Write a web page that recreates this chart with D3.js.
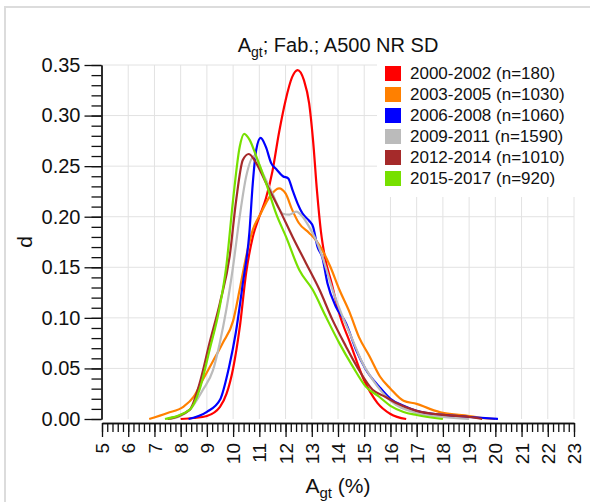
<!DOCTYPE html>
<html>
<head>
<meta charset="utf-8">
<script src="https://cdn.jsdelivr.net/npm/d3@7"></script>
<style>
  body { margin: 0; background: #fff; }
  svg { display: block; font-family: "Liberation Sans", Arial, sans-serif; }
</style>
</head>
<body>
<div id="chart"></div>
<script>
// A_gt density curves, one series per period
const categories = ['2000-2002 (n=180)', '2003-2005 (n=1030)', '2006-2008 (n=1060)',
  '2009-2011 (n=1590)', '2012-2014 (n=1010)', '2015-2017 (n=920)'];
const colors = ['#ff0000', '#ff8000', '#0000ff', '#bbbbbb', '#a52a2a', '#77e000'];

const s2000 = [[8.0,0],[8.5,0.001],[9.0,0.003],[9.5,0.012],[9.75,0.025],[10.0,0.05],[10.25,0.09],
  [10.5,0.145],[10.75,0.18],[11.0,0.2],[11.25,0.218],[11.5,0.245],[11.75,0.283],[12.0,0.315],
  [12.25,0.338],[12.46,0.345],[12.7,0.335],[12.9,0.312],[13.05,0.275],[13.2,0.225],[13.35,0.185],
  [13.5,0.16],[13.75,0.135],[14.05,0.104],[14.45,0.076],[15.0,0.038],[15.5,0.016],[16.0,0.005],[16.6,0]];
const s2003 = [[6.8,0],[7.5,0.006],[8.1,0.012],[8.5,0.022],[8.85,0.039],[9.25,0.058],[9.6,0.075],
  [10.0,0.097],[10.25,0.128],[10.5,0.161],[10.75,0.187],[11.05,0.203],[11.4,0.22],[11.75,0.228],
  [12.0,0.223],[12.25,0.207],[12.5,0.194],[12.9,0.184],[13.15,0.177],[13.4,0.167],[13.7,0.151],
  [14.05,0.128],[14.45,0.105],[14.8,0.081],[15.2,0.062],[15.6,0.042],[16.0,0.03],[16.5,0.018],
  [17.0,0.015],[17.5,0.01],[18.0,0.006],[19.0,0.003],[19.5,0.001],[20.0,0]];
const s2006 = [[8.3,0],[9.0,0.007],[9.5,0.019],[9.85,0.052],[10.1,0.085],[10.37,0.134],[10.62,0.184],
  [10.75,0.233],[10.88,0.266],[11.05,0.278],[11.25,0.269],[11.45,0.253],[11.65,0.247],[11.9,0.24],
  [12.1,0.238],[12.27,0.226],[12.46,0.213],[12.65,0.203],[12.9,0.196],[13.05,0.19],[13.22,0.17],
  [13.4,0.16],[13.6,0.134],[13.92,0.111],[14.3,0.095],[14.68,0.069],[15.06,0.049],[15.57,0.032],
  [16.0,0.02],[16.5,0.013],[17.0,0.008],[18.0,0.004],[19.0,0.002],[20.1,0]];
const s2009 = [[7.6,0],[8.34,0.009],[8.85,0.029],[9.23,0.048],[9.49,0.075],[9.74,0.108],[10.0,0.151],
  [10.25,0.2],[10.5,0.24],[10.8,0.26],[11.13,0.243],[11.5,0.223],[11.9,0.203],[12.15,0.202],
  [12.4,0.205],[12.65,0.2],[12.9,0.19],[13.16,0.177],[13.41,0.16],[13.79,0.128],[14.18,0.101],
  [14.56,0.078],[14.94,0.055],[15.32,0.039],[16.0,0.018],[17.0,0.006],[18.0,0.002],[19.0,0]];
const s2012 = [[7.5,0],[8.34,0.009],[8.72,0.035],[9.1,0.075],[9.49,0.114],[9.87,0.161],[10.12,0.217],
  [10.37,0.256],[10.6,0.262],[10.88,0.253],[11.26,0.233],[11.77,0.207],[12.27,0.18],[12.78,0.154],
  [13.29,0.128],[13.79,0.098],[14.3,0.072],[14.81,0.048],[15.32,0.029],[15.8,0.022],[16.2,0.016],
  [17.0,0.008],[18.0,0.004],[19.0,0.002],[19.5,0]];
const s2015 = [[7.4,0],[8.34,0.009],[8.72,0.029],[9.1,0.068],[9.49,0.111],[9.74,0.151],[10.0,0.217],
  [10.25,0.269],[10.42,0.282],[10.63,0.276],[10.88,0.26],[11.26,0.233],[11.64,0.203],[12.02,0.18],
  [12.53,0.147],[13.03,0.128],[13.54,0.101],[14.05,0.075],[14.56,0.052],[15.06,0.032],[15.57,0.022],
  [16.0,0.013],[16.5,0.007],[17.0,0.004],[18.0,0]];
const seriesData = [s2000, s2003, s2006, s2009, s2012, s2015];

const xTicks = d3.range(5, 24, 1);
const yTicks = [0, 0.05, 0.10, 0.15, 0.20, 0.25, 0.30, 0.35];

const width = 590, height = 502;
const svg = d3.select('#chart').append('svg')
  .attr('width', width)
  .attr('height', height);

// outer frame
svg.append('rect')
  .attr('x', 5).attr('y', 7)
  .attr('width', 600).attr('height', 520)
  .attr('fill', 'none')
  .attr('stroke', '#dcdcdc')
  .attr('stroke-width', 2);

const x = d3.scaleLinear().domain([5, 23]).range([102, 574]);
const y = d3.scaleLinear().domain([0, 0.35]).range([419, 65]);

// grid
const grid = svg.append('g').attr('stroke', '#e2e2e2').attr('stroke-width', 1);
grid.selectAll('.gx').data(xTicks.slice(1)).enter().append('line')
  .attr('x1', d => x(d)).attr('x2', d => x(d))
  .attr('y1', y(0)).attr('y2', y(0.35));
grid.selectAll('.gy').data(yTicks.slice(1)).enter().append('line')
  .attr('x1', x(5)).attr('x2', x(23))
  .attr('y1', d => y(d)).attr('y2', d => y(d));

// legend box (white, covers grid)
const legend = svg.append('g').attr('transform', 'translate(377, 57)');
legend.append('rect')
  .attr('width', 200).attr('height', 140)
  .attr('fill', '#fff');
categories.forEach((c, i) => {
  legend.append('rect')
    .attr('x', 8).attr('y', 9 + i * 21)
    .attr('width', 16).attr('height', 15)
    .attr('fill', colors[i]);
  legend.append('text')
    .attr('x', 33).attr('y', 22 + i * 21)
    .attr('font-size', 17)
    .attr('fill', '#111')
    .text(c);
});

// curves
const line = d3.line()
  .x(d => x(d[0]))
  .y(d => y(d[1]))
  .curve(d3.curveMonotoneX);
svg.append('g').selectAll('path')
  .data(seriesData)
  .enter().append('path')
  .attr('d', line)
  .attr('fill', 'none')
  .attr('stroke', (d, i) => colors[i])
  .attr('stroke-width', 2.2)
  .attr('stroke-linejoin', 'round');

// y axis: major + minor ticks
const yMinor = svg.append('g').attr('transform', 'translate(101.5,0)')
  .call(d3.axisLeft(y).tickValues(d3.range(0, 0.3501, 0.01)).tickSize(10).tickFormat('').tickSizeOuter(0));
const yAxis = svg.append('g').attr('transform', 'translate(101.5,0)')
  .call(d3.axisLeft(y).tickValues(yTicks).tickSize(17).tickPadding(4)
    .tickFormat(d3.format('.2f')).tickSizeOuter(0));
yAxis.selectAll('text').attr('font-size', 20).attr('fill', '#111');

// x axis: offset below the plot
const xMinor = svg.append('g').attr('transform', 'translate(0,423)')
  .call(d3.axisBottom(x).tickValues(d3.range(5, 23.01, 0.2)).tickSize(9).tickFormat('').tickSizeOuter(0));
const xAxis = svg.append('g').attr('transform', 'translate(0,423)')
  .call(d3.axisBottom(x).tickValues(xTicks).tickSize(14).tickFormat(d3.format('d')).tickSizeOuter(0));
xAxis.selectAll('text')
  .attr('font-size', 19)
  .attr('fill', '#111')
  .attr('text-anchor', 'end')
  .attr('transform', 'rotate(-90)')
  .attr('x', -20)
  .attr('y', 0)
  .attr('dy', '0.35em');

[yMinor, yAxis, xMinor, xAxis].forEach(g => {
  g.selectAll('line').attr('stroke', '#111').attr('stroke-width', 1.3);
  g.select('.domain').attr('stroke', '#111').attr('stroke-width', 1.3);
});

// title
const title = svg.append('text')
  .attr('x', 338).attr('y', 52)
  .attr('text-anchor', 'middle')
  .attr('font-size', 20)
  .attr('fill', '#111');
title.append('tspan').text('A');
title.append('tspan').attr('font-size', 14).attr('dy', 5).text('gt');
title.append('tspan').attr('dy', -5).text('; Fab.; A500 NR SD');

// axis labels
const xLabel = svg.append('text')
  .attr('x', 338).attr('y', 493)
  .attr('text-anchor', 'middle')
  .attr('font-size', 21)
  .attr('fill', '#111');
xLabel.append('tspan').text('A');
xLabel.append('tspan').attr('font-size', 15).attr('dy', 5).text('gt');
xLabel.append('tspan').attr('dy', -5).text(' (%)');

svg.append('text')
  .attr('transform', 'translate(32,242) rotate(-90)')
  .attr('text-anchor', 'middle')
  .attr('font-size', 21)
  .attr('fill', '#111')
  .text('d');
</script>
</body>
</html>
